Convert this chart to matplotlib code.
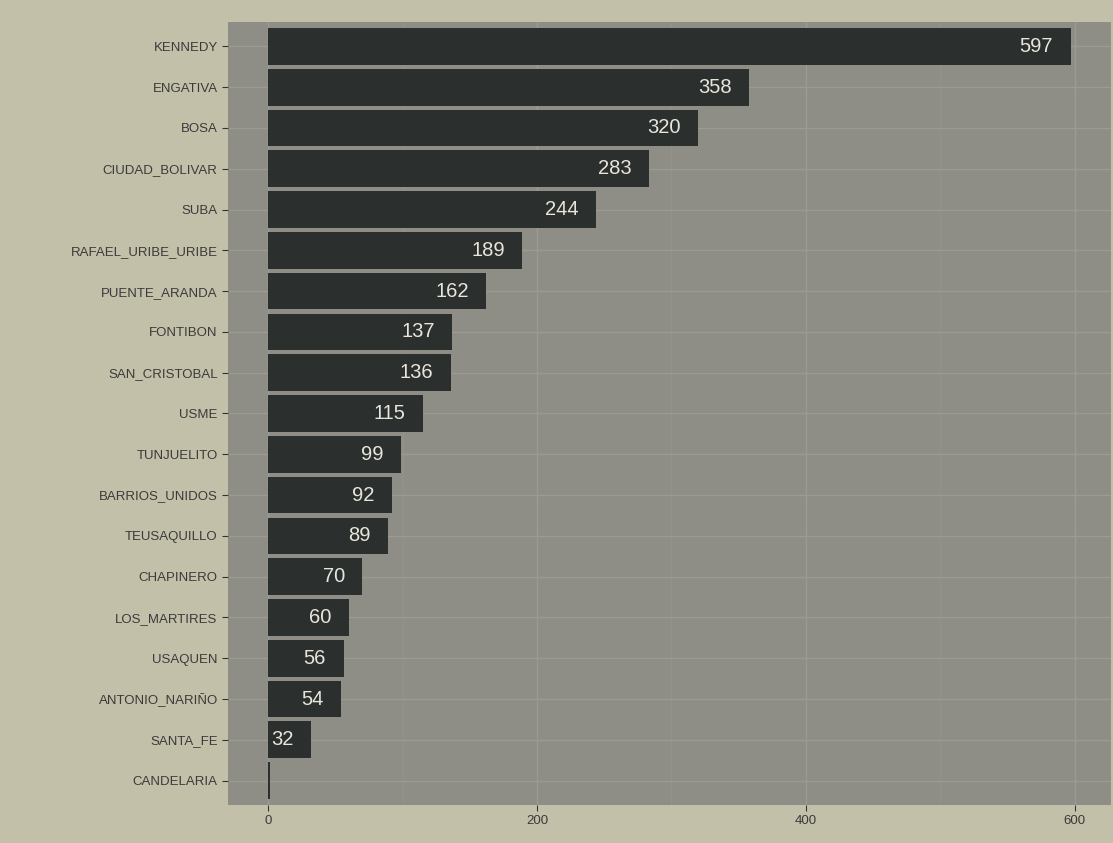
import matplotlib.pyplot as plt

plt.rcParams['font.family'] = ['Liberation Sans', 'DejaVu Sans']

# localidades and counts, largest first
localidades = ['KENNEDY', 'ENGATIVA', 'BOSA', 'CIUDAD_BOLIVAR', 'SUBA',
               'RAFAEL_URIBE_URIBE', 'PUENTE_ARANDA', 'FONTIBON', 'SAN_CRISTOBAL',
               'USME', 'TUNJUELITO', 'BARRIOS_UNIDOS', 'TEUSAQUILLO', 'CHAPINERO',
               'LOS_MARTIRES', 'USAQUEN', 'ANTONIO_NARIÑO', 'SANTA_FE', 'CANDELARIA']
casos = [597, 358, 320, 283, 244, 189, 162, 137, 136, 115, 99, 92, 89, 70,
         60, 56, 54, 32, 1]
x_ticks = [0, 200, 400, 600]

fig = plt.figure(figsize=(11.13, 8.43), dpi=100)
fig.patch.set_facecolor('#c3c0aa')
ax = fig.add_axes([0.205, 0.045, 0.793, 0.929])
ax.set_facecolor('#8f8e86')

ypos = list(range(len(localidades)))[::-1]
ax.barh(ypos, casos, height=0.9, color='#2b2f2d', zorder=3)

# value labels inside the bar ends
for y, v in zip(ypos, casos):
    if v < 10:
        continue
    ax.text(v - 13, y, str(v), ha='right', va='center', fontsize=14.5,
            color='#e8e6dc', zorder=4)

ax.set_xlim(-29.85, 626.85)
ax.set_ylim(-0.6, len(localidades) - 0.4)
ax.set_yticks(ypos)
ax.set_yticklabels(localidades)
ax.set_xticks(x_ticks)
ax.set_xticks([100, 300, 500], minor=True)

ax.grid(axis='x', which='major', color='#9c9b92', linewidth=1.0, zorder=0)
ax.grid(axis='x', which='minor', color='#96958c', linewidth=0.6, zorder=0)
ax.grid(axis='y', color='#9c9b92', linewidth=1.0, zorder=0)

for s in ax.spines.values():
    s.set_visible(False)
ax.tick_params(axis='both', which='major', length=4, color='#333333',
               labelcolor='#3a3a3a', labelsize=9.5)
ax.tick_params(axis='x', which='minor', length=0)

plt.savefig('out.png', dpi=100, facecolor=fig.get_facecolor())
plt.close()
